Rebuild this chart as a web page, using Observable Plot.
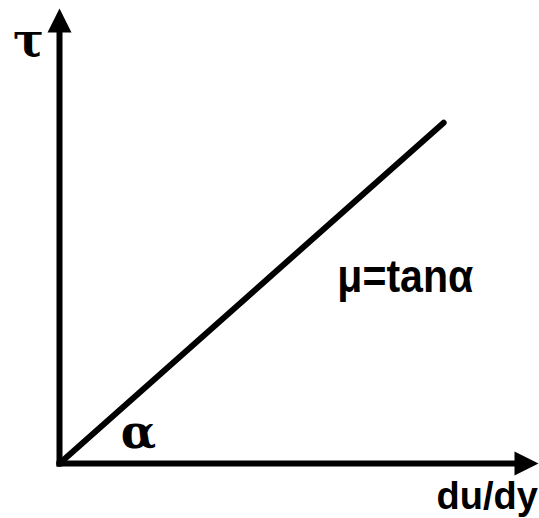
<!DOCTYPE html>
<html>
<head>
<meta charset="utf-8">
<script src="https://cdn.jsdelivr.net/npm/d3@7"></script>
<script src="https://cdn.jsdelivr.net/npm/@observablehq/plot@0.6"></script>
<style>
  html, body { margin: 0; padding: 0; background: #fff; }
</style>
</head>
<body>
<div id="chart"></div>
<script>
// Data (in chart units; origin at 0,0, axes run to 100)
const lineX = [0, 80.2];
const lineY = [0, 74.9];
const axisEnd = 100;

// Labels
const serifLabels = ["τ", "α"];
const serifX = [-6.5, 16.5];
const serifY = [89.5, 3.3];
const sansLabels = ["μ=tanα", "du/dy"];
const sansX = [58.0, 78.7];
const sansY = [37.6, -9.9];
const sansSize = [46, 38];
const sansWidth = [136, null];

const lineData = lineX.map((x, i) => ({x, y: lineY[i]}));
const vAxis = [{x: 0, y: 0}, {x: 0, y: axisEnd - 4}];
const hAxis = [{x: 0, y: 0}, {x: axisEnd - 4, y: 0}];
const heads = [{x: 0, y: axisEnd, r: 0}, {x: axisEnd, y: 0, r: 90}];

const arrowHead = {
  draw(ctx) {
    ctx.moveTo(0, 0);
    ctx.lineTo(-12, 24);
    ctx.lineTo(12, 24);
    ctx.closePath();
  }
};

const serif = serifLabels.map((t, i) => ({t, x: serifX[i], y: serifY[i]}));
const sans = sansLabels.map((t, i) => ({t, x: sansX[i], y: sansY[i], s: sansSize[i]}));

const plot = Plot.plot({
  width: 539,
  height: 518,
  marginLeft: 59,
  marginRight: 1,
  marginTop: 8,
  marginBottom: 55,
  x: {domain: [0, 100], axis: null},
  y: {domain: [0, 100], axis: null},
  style: {background: "white"},
  marks: [
    Plot.line(vAxis, {x: "x", y: "y", stroke: "black", strokeWidth: 6, strokeLinecap: "square"}),
    Plot.line(hAxis, {x: "x", y: "y", stroke: "black", strokeWidth: 6, strokeLinecap: "square"}),
    Plot.line(lineData, {x: "x", y: "y", stroke: "black", strokeWidth: 6}),
    Plot.dot(heads, {x: "x", y: "y", rotate: "r", symbol: arrowHead, fill: "black", stroke: "none"}),
    Plot.text(serif, {x: "x", y: "y", text: "t", fontSize: 46, fontFamily: "DejaVu Serif", fontWeight: "bold", textAnchor: "middle", lineAnchor: "bottom", fill: "black"}),
    Plot.text(sans, {x: "x", y: "y", text: "t", fontSize: "s", fontFamily: "Liberation Sans, Arial", fontWeight: "bold", textAnchor: "start", lineAnchor: "bottom", fill: "black"})
  ]
});
// condense the wide label to the reference's width
d3.select(plot).selectAll("text").each(function() {
  const i = sansLabels.indexOf(this.textContent);
  if (i >= 0 && sansWidth[i]) {
    d3.select(this).attr("textLength", sansWidth[i]).attr("lengthAdjust", "spacingAndGlyphs");
  }
});
document.getElementById("chart").appendChild(plot);
</script>
</body>
</html>
